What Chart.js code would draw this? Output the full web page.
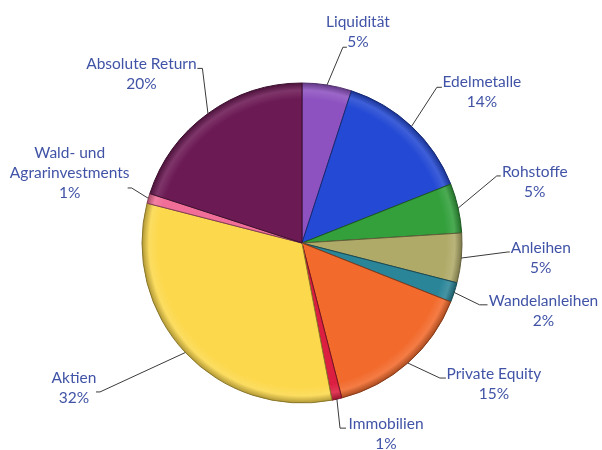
<!DOCTYPE html>
<html>
<head>
<meta charset="utf-8">
<script src="https://cdn.jsdelivr.net/npm/chart.js@4.4.0/dist/chart.umd.min.js"></script>
<style>
  html, body { margin: 0; padding: 0; background: #fff; }
  #wrap { width: 602px; height: 450px; }
</style>
</head>
<body>
<div id="wrap"><canvas id="pie"></canvas></div>
<script>
const categories = ['Liquidität', 'Edelmetalle', 'Rohstoffe', 'Anleihen', 'Wandelanleihen',
  'Private Equity', 'Immobilien', 'Aktien', ['Wald- und', 'Agrarinvestments'], 'Absolute Return'];
const shares = [5, 14, 5, 5, 2, 15, 1, 32, 1, 20];
const colors = ['#8d52c0', '#2449d4', '#33a03c', '#b0aa68', '#2a8598',
  '#f26a2c', '#dc1e40', '#fcd84c', '#f06e98', '#6c1a54'];

// where each label's leader bends: [clock angle in degrees, distance from centre], text offset, line stub
const labelLayout = [
  { a: 11.8, r: 200, stub: 4, dx: 15, dy: -25 },
  { a: 40.9, r: 206, stub: 5, dx: 45, dy: -5 },
  { a: 71, r: 206, stub: 4, dx: 38, dy: -4 },
  { a: 92.5, r: 206, stub: 2, dx: 33, dy: -4 },
  { a: 109.2, r: 188, stub: 8, dx: 64, dy: -4 },
  { a: 134.4, r: 193, stub: 6, dx: 54, dy: -4 },
  { a: 168.4, r: 189, stub: 6, dx: 46, dy: -4 },
  { a: 233.6, r: 251, stub: -4, dx: -26, dy: -14 },
  { a: 287.9, r: 179, stub: -4, dx: -62, dy: -35 },
  { a: 330.3, r: 201, stub: -5, dx: -61, dy: -4 }
];

function shade(hex, f) {
  const n = parseInt(hex.slice(1), 16);
  let r = (n >> 16) & 255, g = (n >> 8) & 255, b = n & 255;
  if (f < 0) { r *= 1 + f; g *= 1 + f; b *= 1 + f; }
  else { r += (255 - r) * f; g += (255 - g) * f; b += (255 - b) * f; }
  return 'rgb(' + Math.round(r) + ',' + Math.round(g) + ',' + Math.round(b) + ')';
}

const leaderLabels = {
  id: 'leaderLabels',
  afterDatasetsDraw(chart) {
    const ctx = chart.ctx;
    const meta = chart.getDatasetMeta(0);
    ctx.save();
    meta.data.forEach((arc, i) => {
      const L = labelLayout[i];
      const mid = (arc.startAngle + arc.endAngle) / 2;
      const ax = arc.x + arc.outerRadius * Math.cos(mid);
      const ay = arc.y + arc.outerRadius * Math.sin(mid);
      const t = (L.a - 90) * Math.PI / 180;
      const ex = arc.x + L.r * Math.cos(t);
      const ey = arc.y + L.r * Math.sin(t);
      ctx.strokeStyle = '#3a3a3a';
      ctx.lineWidth = 1;
      ctx.beginPath();
      ctx.moveTo(ax, ay);
      ctx.lineTo(ex, ey);
      ctx.lineTo(ex + L.stub, ey);
      ctx.stroke();

      const name = categories[i];
      const lines = (Array.isArray(name) ? name : [name]).concat([shares[i] + '%']);
      ctx.fillStyle = '#4053a6';
      ctx.font = '15.5px Lato';
      ctx.textAlign = 'center';
      ctx.textBaseline = 'middle';
      lines.forEach((s, k) => ctx.fillText(s, ex + L.dx, ey + L.dy + k * 20));
    });
    ctx.restore();
  }
};

const ctx = document.getElementById('pie');

new Chart(ctx, {
  type: 'pie',
  data: {
    labels: categories,
    datasets: [{
      data: shares,
      backgroundColor: (c) => {
        const col = colors[c.dataIndex];
        const area = c.chart.chartArea;
        if (!area) return col;
        const cx = (area.left + area.right) / 2, cy = (area.top + area.bottom) / 2;
        const g = c.chart.ctx.createRadialGradient(cx, cy, 0, cx, cy, 160);
        g.addColorStop(0, col);
        g.addColorStop(0.9, col);
        g.addColorStop(0.955, shade(col, 0.12));
        g.addColorStop(1, shade(col, -0.3));
        return g;
      },
      borderColor: colors.map(c => shade(c, -0.45)),
      borderWidth: 1
    }]
  },
  options: {
    responsive: true,
    maintainAspectRatio: false,
    animation: false,
    radius: 160,
    layout: { padding: { left: 132, right: 130, top: 73, bottom: 37 } },
    plugins: {
      legend: { display: false },
      tooltip: { enabled: false }
    }
  },
  plugins: [leaderLabels]
});
</script>
</body>
</html>
